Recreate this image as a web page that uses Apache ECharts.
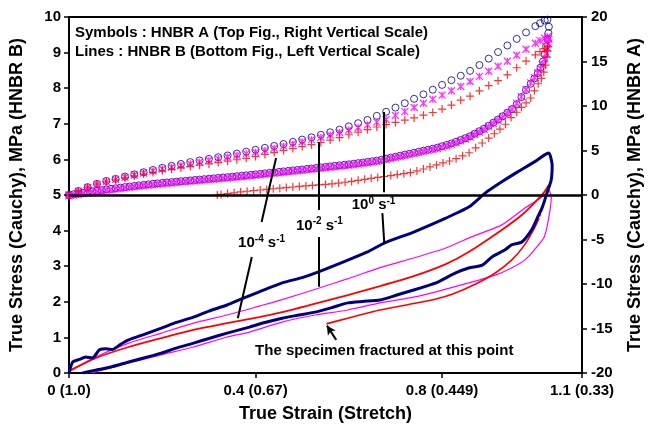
<!DOCTYPE html>
<html>
<head>
<meta charset="utf-8">
<title>HNBR true stress - true strain</title>
<script src="https://cdn.jsdelivr.net/npm/echarts@6.0.0/dist/echarts.min.js"></script>
<style>
  html, body { margin: 0; padding: 0; background: #fff; }
  #chart { width: 652px; height: 430px; }
</style>
</head>
<body>
<div id="chart"></div>
<script>
// ---------- data ----------
var xTickValues = [0, 0.4, 0.8, 1.1];
var xTickLabels = ['0 (1.0)', '0.4 (0.67)', '0.8 (0.449)', '1.1 (0.33)'];

// Symbols : HNBR A, right scale. loading branch (shared strain)
var symLoadStrain = [0, 0.02, 0.04, 0.06, 0.08, 0.10, 0.12, 0.14, 0.16, 0.18, 0.20, 0.22, 0.24, 0.26, 0.28, 0.30, 0.32, 0.34, 0.36, 0.38,
  0.40, 0.42, 0.44, 0.46, 0.48, 0.50, 0.52, 0.54, 0.56, 0.58, 0.60, 0.62, 0.64, 0.66, 0.68, 0.70, 0.72, 0.74, 0.76, 0.78,
  0.80, 0.82, 0.84, 0.86, 0.88, 0.90, 0.92, 0.94, 0.96, 0.98, 1.00, 1.01, 1.02, 1.026];
var circLoad = [0, 0.45, 0.88, 1.25, 1.58, 1.81, 2.07, 2.32, 2.56, 2.81, 3.05, 3.27, 3.49, 3.70, 3.88, 4.06, 4.24, 4.44, 4.65, 4.87,
  5.08, 5.30, 5.51, 5.73, 5.97, 6.23, 6.48, 6.76, 7.05, 7.35, 7.71, 8.07, 8.43, 8.89, 9.35, 9.82, 10.31, 10.81, 11.31, 11.83,
  12.37, 12.90, 13.40, 13.95, 14.60, 15.32, 16.06, 16.80, 17.54, 18.27, 18.97, 19.30, 19.60, 19.70];
var starLoad = [0, 0.42, 0.84, 1.20, 1.50, 1.76, 2.00, 2.24, 2.47, 2.70, 2.92, 3.12, 3.32, 3.52, 3.71, 3.90, 4.09, 4.27, 4.46, 4.65,
  4.80, 5.01, 5.25, 5.49, 5.74, 5.98, 6.22, 6.46, 6.74, 7.02, 7.30, 7.59, 7.88, 8.19, 8.49, 8.93, 9.37, 9.83, 10.30, 10.75,
  11.22, 11.71, 12.20, 12.75, 13.33, 13.90, 14.47, 15.03, 15.70, 16.38, 17.05, 17.35, 17.62, 17.78];
var plusLoad = [0, 0.42, 0.85, 1.22, 1.48, 1.70, 1.92, 2.14, 2.35, 2.54, 2.72, 2.88, 3.04, 3.19, 3.34, 3.49, 3.64, 3.80, 3.96, 4.12,
  4.32, 4.55, 4.77, 4.99, 5.22, 5.44, 5.66, 5.90, 6.17, 6.44, 6.77, 7.06, 7.35, 7.64, 7.91, 8.16, 8.41, 8.66, 8.97, 9.27,
  9.65, 10.10, 10.65, 11.10, 11.70, 12.30, 12.85, 13.50, 14.30, 15.05, 15.75, 16.10, 16.45, 16.65];

// unloading branch (shared strain for circles and stars)
var symUnloadStrain = [1.029, 1.028, 1.026, 1.023, 1.02, 1.016, 1.011, 1.005, 0.998, 0.99,
  0.98, 0.97, 0.96, 0.95, 0.94, 0.93, 0.92, 0.91, 0.90, 0.89, 0.88, 0.87, 0.86, 0.85, 0.84, 0.83, 0.82, 0.81, 0.80, 0.79,
  0.78, 0.77, 0.76, 0.75, 0.74, 0.73, 0.72, 0.71, 0.70, 0.69, 0.68, 0.67, 0.66, 0.65, 0.64, 0.63, 0.62, 0.61, 0.60, 0.59,
  0.58, 0.57, 0.56, 0.55, 0.54, 0.53, 0.52, 0.51, 0.50, 0.49, 0.48, 0.47, 0.46, 0.45, 0.44, 0.43, 0.42, 0.41, 0.40, 0.39,
  0.38, 0.37, 0.36, 0.35, 0.34, 0.33, 0.32, 0.31, 0.30, 0.29, 0.28, 0.27, 0.26, 0.25, 0.24, 0.23, 0.22, 0.21, 0.20, 0.19,
  0.18, 0.17, 0.16, 0.15, 0.14, 0.13, 0.12, 0.11, 0.10, 0.09, 0.08, 0.07, 0.06, 0.05, 0.04, 0.03, 0.02, 0.01, 0];
var circUnload = [18.9, 18.2, 17.5, 16.7, 15.8, 15.0, 14.3, 13.7, 13.1, 12.5,
  11.8, 11.0, 10.2, 9.65, 9.25, 8.85, 8.48, 8.13, 7.78, 7.45, 7.17, 6.89, 6.60, 6.38, 6.18, 5.98, 5.79, 5.63, 5.48, 5.32,
  5.20, 5.09, 4.98, 4.86, 4.75, 4.64, 4.53, 4.42, 4.30, 4.20, 4.08, 3.96, 3.87, 3.79, 3.72, 3.65, 3.58, 3.51, 3.45, 3.39,
  3.33, 3.28, 3.22, 3.16, 3.10, 3.04, 2.98, 2.93, 2.87, 2.82, 2.76, 2.71, 2.65, 2.60, 2.54, 2.49, 2.43, 2.38, 2.32, 2.27,
  2.21, 2.16, 2.11, 2.06, 2.01, 1.97, 1.92, 1.87, 1.83, 1.78, 1.73, 1.69, 1.64, 1.59, 1.55, 1.50, 1.45, 1.41, 1.36, 1.31,
  1.26, 1.20, 1.14, 1.08, 1.02, 0.96, 0.89, 0.83, 0.76, 0.69, 0.62, 0.55, 0.47, 0.40, 0.32, 0.24, 0.16, 0.08, 0];
var starUnload = [17.5, 17.0, 16.5, 15.9, 15.3, 14.7, 14.2, 13.7, 13.2, 12.6,
  11.85, 11.05, 10.3, 9.60, 9.18, 8.78, 8.40, 8.04, 7.70, 7.37, 7.08, 6.80, 6.52, 6.29, 6.08, 5.88, 5.69, 5.53, 5.38, 5.22,
  5.10, 4.99, 4.88, 4.76, 4.65, 4.54, 4.43, 4.32, 4.20, 4.10, 3.98, 3.86, 3.77, 3.69, 3.62, 3.55, 3.48, 3.41, 3.35, 3.29,
  3.23, 3.18, 3.12, 3.06, 3.00, 2.94, 2.88, 2.83, 2.77, 2.72, 2.66, 2.61, 2.55, 2.50, 2.44, 2.39, 2.33, 2.28, 2.22, 2.17,
  2.11, 2.06, 2.01, 1.96, 1.91, 1.87, 1.82, 1.77, 1.73, 1.68, 1.63, 1.59, 1.54, 1.49, 1.45, 1.40, 1.35, 1.31, 1.26, 1.21,
  1.16, 1.10, 1.04, 0.98, 0.92, 0.86, 0.79, 0.73, 0.66, 0.59, 0.52, 0.45, 0.37, 0.30, 0.22, 0.14, 0.06, -0.02, -0.10];
var plusUnloadStrain = [1.026, 1.025, 1.022, 1.018, 1.013, 1.006, 0.998, 0.990, 0.980, 0.970, 0.960, 0.948, 0.936, 0.924, 0.912,
  0.900, 0.886, 0.872, 0.858, 0.844, 0.830, 0.816, 0.802, 0.788, 0.774, 0.760, 0.746, 0.732, 0.718, 0.704, 0.690, 0.676,
  0.662, 0.648, 0.634, 0.620, 0.606, 0.592, 0.578, 0.564, 0.550, 0.536, 0.522, 0.508, 0.494, 0.480, 0.466, 0.452, 0.438,
  0.424, 0.410, 0.396, 0.382, 0.368, 0.354, 0.340, 0.326, 0.318];
var plusUnload = [16.2, 15.5, 14.6, 13.8, 13.1, 12.5, 11.7, 10.9, 10.35, 9.85, 9.3, 8.7, 7.95, 7.4, 6.88,
  6.4, 5.84, 5.3, 4.75, 4.4, 4.08, 3.82, 3.6, 3.38, 3.15, 2.92, 2.7, 2.52, 2.40, 2.29, 2.18, 2.08,
  1.98, 1.87, 1.76, 1.65, 1.53, 1.43, 1.34, 1.26, 1.19, 1.13, 1.08, 1.02, 0.96, 0.90, 0.83, 0.77, 0.70,
  0.63, 0.56, 0.49, 0.42, 0.34, 0.25, 0.16, 0.07, 0];

// Lines : HNBR B, left scale
var navyLoadX = [0, 0.008, 0.022, 0.036, 0.05, 0.057, 0.065, 0.08, 0.093, 0.11, 0.128, 0.16, 0.198, 0.23, 0.267, 0.3, 0.339,
  0.37, 0.408, 0.457, 0.5, 0.535, 0.598, 0.64, 0.676, 0.739, 0.808, 0.857, 0.893, 0.928, 0.962, 0.998, 1.019, 1.029, 1.036];
var navyLoadY = [0, 0.31, 0.38, 0.45, 0.42, 0.51, 0.65, 0.68, 0.66, 0.80, 0.93, 1.08, 1.26, 1.42, 1.57, 1.74, 1.91,
  2.08, 2.28, 2.53, 2.68, 2.84, 3.17, 3.40, 3.65, 3.96, 4.35, 4.66, 5.06, 5.37, 5.65, 5.93, 6.12, 6.18, 5.84];
var navyUnloadX = [1.034, 1.025, 1.015, 1.004, 0.992, 0.971, 0.949, 0.935, 0.907, 0.886, 0.857, 0.829, 0.787, 0.773, 0.739,
  0.703, 0.667, 0.63, 0.598, 0.562, 0.528, 0.49, 0.457, 0.42, 0.387, 0.339, 0.3, 0.267, 0.23, 0.198, 0.16, 0.128, 0.09,
  0.057, 0.029];
var navyUnloadY = [5.42, 5.06, 4.66, 4.35, 4.02, 3.68, 3.60, 3.46, 3.26, 3.03, 2.95, 2.81, 2.53, 2.47, 2.33,
  2.19, 2.05, 2.01, 1.97, 1.83, 1.71, 1.62, 1.54, 1.42, 1.29, 1.12, 0.97, 0.84, 0.70, 0.56, 0.42, 0.31, 0.17,
  0.08, 0];
var pinkLoadX = [0, 0.057, 0.128, 0.198, 0.267, 0.339, 0.408, 0.457, 0.535, 0.598, 0.667, 0.739, 0.808, 0.857, 0.928,
  0.977, 0.998, 1.019, 1.029];
var pinkLoadY = [0.03, 0.45, 0.84, 1.12, 1.40, 1.63, 1.88, 2.06, 2.38, 2.65, 2.96, 3.23, 3.51, 3.79, 4.16,
  4.63, 4.80, 5.00, 5.14];
var pinkUnloadX = [1.034, 1.029, 1.019, 0.998, 0.977, 0.949, 0.914, 0.857, 0.787, 0.739, 0.667, 0.598, 0.528, 0.457,
  0.387, 0.339, 0.267, 0.198, 0.128, 0.057, 0.036];
var pinkUnloadY = [4.94, 4.38, 3.82, 3.46, 3.17, 2.95, 2.75, 2.53, 2.28, 2.13, 1.97, 1.77, 1.63, 1.43,
  1.15, 1.01, 0.73, 0.51, 0.28, 0.03, 0];
var redLoadX = [0, 0.057, 0.128, 0.198, 0.267, 0.339, 0.408, 0.457, 0.528, 0.598, 0.667, 0.739, 0.808, 0.857, 0.928,
  0.971, 0.998, 1.019, 1.029];
var redLoadY = [0.06, 0.42, 0.73, 0.98, 1.21, 1.40, 1.57, 1.71, 1.95, 2.19, 2.44, 2.72, 3.06, 3.40, 4.02,
  4.44, 4.78, 5.08, 5.28];
var redDashX = [1.029, 1.025, 1.015, 1.008];
var redDashY = [5.28, 5.00, 4.66, 4.35];
var redUnloadX = [1.008, 0.998, 0.977, 0.949, 0.914, 0.872, 0.823, 0.787, 0.739, 0.667, 0.598, 0.552];
var redUnloadY = [4.35, 4.07, 3.60, 3.17, 2.81, 2.50, 2.22, 2.08, 1.95, 1.77, 1.54, 1.38];

// annotation texts
var rateTexts = ['{a|10}{b|-4}{a| s}{b|-1}', '{a|10}{b|-2}{a| s}{b|-1}', '{a|10}{b|0}{a| s}{b|-1}'];
var noteText = 'The specimen fractured at this point';
var legendLines = ['Symbols : HNBR A (Top Fig., Right Vertical Scale)', 'Lines : HNBR B (Bottom Fig., Left Vertical Scale)'];

// ---------- helpers ----------
function zip(xs, ys) {
  return ys.map(function (y, i) { return [xs[i], y]; });
}

var FONT = '"Liberation Sans", Arial, sans-serif';
var NAVY = '#000080', PINK = '#FF00FF', RED = '#FF0000';

// pointer lines and label spots, in (strain, left stress) units
var pointerSegs = [
  [[0.444, 6.04], [0.413, 4.24]], [[0.392, 3.26], [0.362, 1.54]],
  [[0.535, 6.49], [0.535, 4.58]], [[0.535, 3.82], [0.535, 2.42]],
  [[0.674, 7.33], [0.674, 5.08]], [[0.672, 4.49], [0.676, 3.65]]
];
var labelSpots = [[0.413, 3.65], [0.537, 4.14], [0.653, 4.72]];
var arrowSeg = [[0.573, 0.93], [0.553, 1.33]];
var noteSpot = [0.676, 0.62];

var markLineData = [{ yAxis: 5, lineStyle: { width: 2.5 } }];
pointerSegs.forEach(function (s) {
  markLineData.push([{ coord: s[0] }, { coord: s[1] }]);
});
markLineData.push([{ coord: arrowSeg[0] }, { coord: arrowSeg[1], symbol: 'arrow', symbolSize: [7, 9] }]);

var markPointData = labelSpots.map(function (p, i) {
  return { coord: p, label: { formatter: rateTexts[i] } };
});
markPointData.push({ coord: noteSpot, label: { formatter: noteText } });

var chart = echarts.init(document.getElementById('chart'), null, { renderer: 'canvas' });

var option = {
  animation: false,
  backgroundColor: '#fff',
  textStyle: { fontFamily: FONT },
  grid: { left: 66, right: 65, top: 17, bottom: 57, show: true, borderColor: '#000', borderWidth: 2 },
  xAxis: {
    type: 'value', min: 0, max: 1.1,
    name: 'True Strain (Stretch)', nameLocation: 'middle', nameGap: 32,
    nameTextStyle: { fontSize: 18, fontWeight: 'bold', color: '#000', fontFamily: FONT },
    axisLine: { lineStyle: { color: '#000', width: 2 } },
    axisTick: { show: true, length: 5, lineStyle: { color: '#000', width: 1.5 }, customValues: xTickValues },
    axisLabel: {
      customValues: xTickValues, margin: 10, fontSize: 15, fontWeight: 'bold', color: '#000', fontFamily: FONT,
      formatter: function (v) { return xTickLabels[xTickValues.indexOf(v)]; }
    },
    splitLine: { show: false }
  },
  yAxis: [{
    type: 'value', min: 0, max: 10, interval: 1, position: 'left',
    name: 'True Stress (Cauchy), MPa (HNBR B)', nameLocation: 'middle', nameGap: 43,
    nameTextStyle: { fontSize: 18, fontWeight: 'bold', color: '#000', fontFamily: FONT },
    axisLine: { show: true, lineStyle: { color: '#000', width: 2 } },
    axisTick: { show: true, length: 5, lineStyle: { color: '#000', width: 1.5 } },
    axisLabel: { margin: 8, fontSize: 15, fontWeight: 'bold', color: '#000', fontFamily: FONT },
    splitLine: { show: false }
  }, {
    type: 'value', min: -20, max: 20, interval: 5, position: 'right',
    name: 'True Stress (Cauchy), MPa (HNBR A)', nameLocation: 'middle', nameGap: 44,
    nameTextStyle: { fontSize: 18, fontWeight: 'bold', color: '#000', fontFamily: FONT },
    axisLine: { show: true, lineStyle: { color: '#000', width: 2 } },
    axisTick: { show: true, length: 5, lineStyle: { color: '#000', width: 1.5 } },
    axisLabel: { margin: 9, fontSize: 15, fontWeight: 'bold', color: '#000', fontFamily: FONT },
    splitLine: { show: false }
  }],
  graphic: legendLines.map(function (t, i) {
    return {
      type: 'text', left: 75, top: 25 + i * 19,
      style: { text: t, fontSize: 15, fontWeight: 'bold', fontFamily: FONT, fill: '#000' }
    };
  }),
  series: [
    {
      name: 'HNBR A 10^0', type: 'scatter', yAxisIndex: 1, silent: true,
      symbol: 'circle', symbolSize: 7,
      itemStyle: { color: 'transparent', borderColor: NAVY, borderWidth: 1 },
      data: zip(symLoadStrain, circLoad).concat(zip(symUnloadStrain, circUnload))
    },
    {
      name: 'HNBR A 10^-2', type: 'scatter', yAxisIndex: 1, silent: true,
      symbol: 'path://M0,0L10,10M10,0L0,10M5,0L5,10', symbolSize: 7,
      itemStyle: { color: 'transparent', borderColor: PINK, borderWidth: 1.3 },
      data: zip(symLoadStrain, starLoad).concat(zip(symUnloadStrain, starUnload))
    },
    {
      name: 'HNBR A 10^-4', type: 'scatter', yAxisIndex: 1, silent: true,
      symbol: 'path://M5,0L5,10M0,5L10,5', symbolSize: 8,
      itemStyle: { color: 'transparent', borderColor: RED, borderWidth: 1.2 },
      data: zip(symLoadStrain, plusLoad).concat(zip(plusUnloadStrain, plusUnload))
    },
    {
      name: 'HNBR B 10^-2', type: 'line', yAxisIndex: 0, silent: true, showSymbol: false, symbol: 'none', smooth: 0.2,
      lineStyle: { color: PINK, width: 1.2 },
      data: zip(pinkLoadX, pinkLoadY).concat(zip(pinkUnloadX, pinkUnloadY))
    },
    {
      name: 'HNBR B 10^-4', type: 'line', yAxisIndex: 0, silent: true, showSymbol: false, symbol: 'none', smooth: 0.2,
      lineStyle: { color: RED, width: 1.8 },
      data: zip(redLoadX, redLoadY)
    },
    {
      name: 'HNBR B 10^-4 dash', type: 'line', yAxisIndex: 0, silent: true, showSymbol: false, symbol: 'none',
      lineStyle: { color: RED, width: 1.8, type: [3, 2] },
      data: zip(redDashX, redDashY)
    },
    {
      name: 'HNBR B 10^-4 unload', type: 'line', yAxisIndex: 0, silent: true, showSymbol: false, symbol: 'none', smooth: 0.2,
      lineStyle: { color: RED, width: 1.6 },
      data: zip(redUnloadX, redUnloadY)
    },
    {
      name: 'HNBR B 10^0', type: 'line', yAxisIndex: 0, silent: true, showSymbol: false, symbol: 'none', smooth: 0.2,
      lineStyle: { color: NAVY, width: 3 },
      data: zip(navyLoadX, navyLoadY).concat(zip(navyUnloadX, navyUnloadY)),
      markLine: {
        silent: true, symbol: ['none', 'none'],
        label: { show: false },
        lineStyle: { color: '#000', width: 2, type: 'solid' },
        emphasis: { disabled: true },
        data: markLineData
      },
      markPoint: {
        silent: true, symbol: 'circle', symbolSize: 1,
        itemStyle: { color: 'rgba(0,0,0,0)' },
        label: {
          show: true, position: 'inside', color: '#000', fontSize: 15, fontWeight: 'bold', fontFamily: FONT,
          rich: {
            a: { fontSize: 15, fontWeight: 'bold', color: '#000', fontFamily: FONT, lineHeight: 18 },
            b: { fontSize: 10, fontWeight: 'bold', color: '#000', fontFamily: FONT, lineHeight: 18, verticalAlign: 'top' }
          }
        },
        data: markPointData
      }
    }
  ]
};

chart.setOption(option);
</script>
</body>
</html>
